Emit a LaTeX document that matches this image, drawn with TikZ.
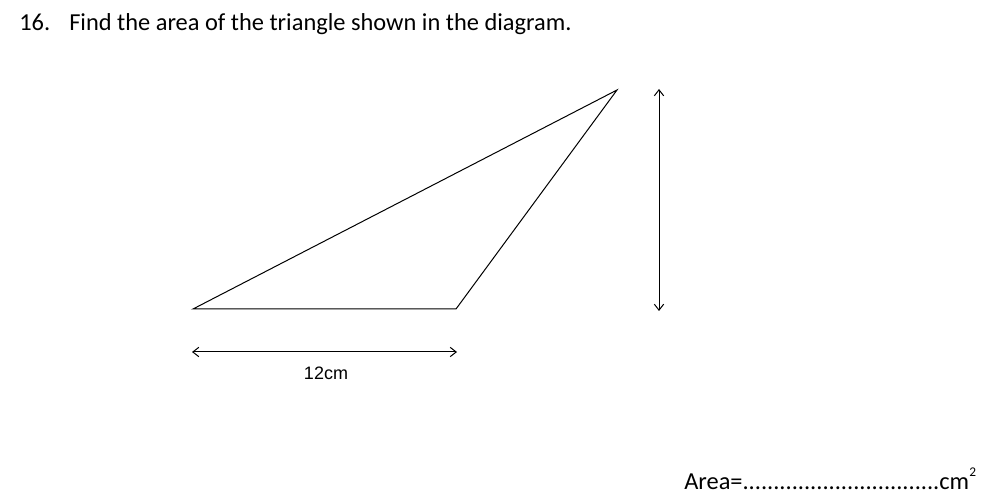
\documentclass[tikz,border=0pt]{standalone}
\usepackage{fontspec}
\setmainfont{Carlito}
\newfontfamily\arialf{Liberation Sans}
\usetikzlibrary{arrows.meta}
\begin{document}
\begin{tikzpicture}[x=0.75pt,y=-0.75pt,
  edge/.style={line width=0.75pt,black},
  dim/.style={line width=0.75pt,black,{Straight Barb[length=4.5pt,width=7pt]}-{Straight Barb[length=4.5pt,width=7pt]}},
  title/.style={font=\fontsize{18.3pt}{22pt}\selectfont,inner sep=0pt,anchor=base west},
  lab/.style={font=\arialf\fontsize{13.5pt}{16pt}\selectfont,inner sep=0pt,anchor=base}]
\useasboundingbox (0,0) rectangle (1000,502);
\node[title] (num) at (19,31) {16.};
\node[title] (q) at (69,31) {Find the area of the triangle shown in the diagram.};
\coordinate (A) at (193,309);
\coordinate (B) at (456,309);
\coordinate (C) at (617,90);
\draw[edge,line join=miter] (A) -- (B) -- (C) -- cycle;
\coordinate (h1) at (192,352);
\coordinate (h2) at (457,352);
\draw[dim] (h1) -- (h2);
\node[lab] (len) at (326,380) {12cm};
\coordinate (v1) at (659,89);
\coordinate (v2) at (659,311);
\draw[dim] (v1) -- (v2);
\node[title] (area) at (684,489) {Area=................................cm\raisebox{1.1ex}{\fontsize{10pt}{12pt}\selectfont 2}};
\end{tikzpicture}
\end{document}
